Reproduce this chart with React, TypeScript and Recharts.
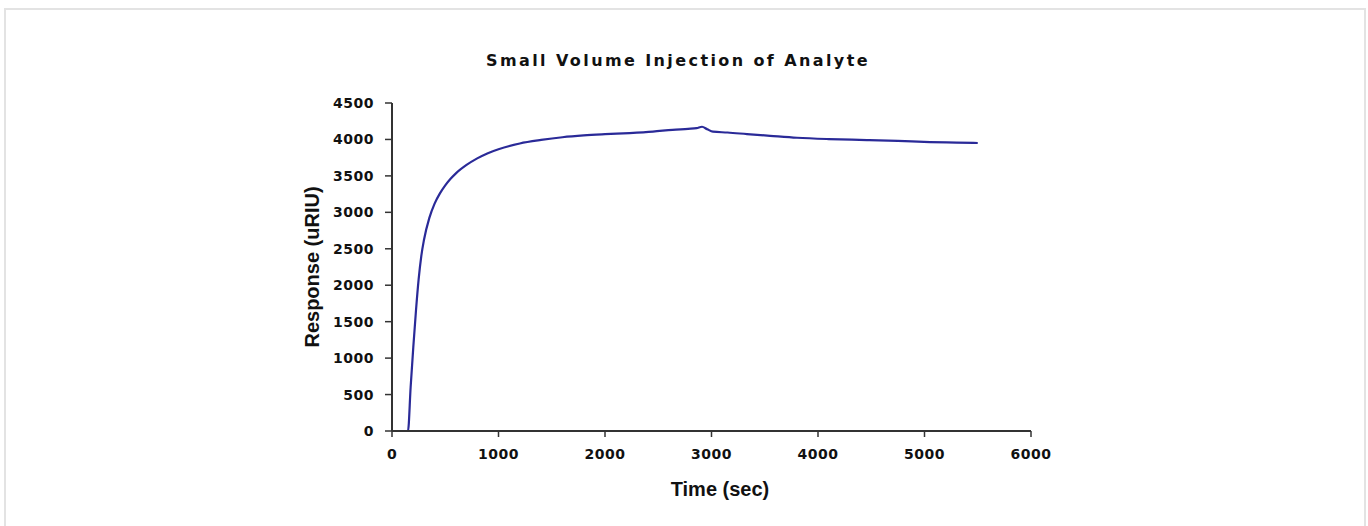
import { LineChart, Line, XAxis, YAxis } from 'recharts'

const times = [0, 150, 175, 200, 225, 250, 275, 300, 350, 400, 450, 500, 550, 600, 700, 800, 900, 1000, 1200, 1400, 1600, 1800, 2000, 2231, 2450, 2634, 2780, 2860, 2911, 2960, 3014, 3150, 3333, 3550, 3803, 4100, 4460, 4750, 5052, 5300, 5500]
const responses = [0, 0, 600, 1150, 1650, 2080, 2400, 2620, 2920, 3120, 3260, 3370, 3460, 3535, 3650, 3740, 3812, 3866, 3945, 3993, 4030, 4055, 4072, 4088, 4108, 4132, 4146, 4155, 4174, 4140, 4106, 4095, 4074, 4050, 4023, 4005, 3992, 3980, 3964, 3957, 3951]
const xTicks = [0, 1000, 2000, 3000, 4000, 5000, 6000]
const yTicks = [0, 500, 1000, 1500, 2000, 2500, 3000, 3500, 4000, 4500]

const chartData = times.map((t, i) => ({ time: t, response: responses[i] }))

const tickStyle = { fill: '#111', fontSize: 14, fontWeight: 700, fontFamily: 'DejaVu Sans', letterSpacing: 0.5 }

export default function App() {
  return (
    <div style={{ position: 'absolute', left: 0, top: 0, width: 1368, height: 526, overflow: 'hidden', background: '#fff' }}>
      <div style={{ position: 'absolute', left: 4, top: 8, width: 1358, height: 540, border: '2px solid #e3e3e3' }} />
      <div style={{ position: 'absolute', left: 0, top: 0 }}>
        <LineChart width={1368} height={526} data={chartData} margin={{ top: 103, right: 337, bottom: 55, left: 312 }}>
          <XAxis
            dataKey="time"
            type="number"
            domain={[0, 6000]}
            ticks={xTicks}
            tick={tickStyle}
            tickSize={6}
            tickMargin={12}
            height={40}
            axisLine={{ stroke: '#333', strokeWidth: 2 }}
            tickLine={{ stroke: '#333', strokeWidth: 1.5 }}
          />
          <YAxis
            type="number"
            domain={[0, 4500]}
            ticks={yTicks}
            tick={tickStyle}
            tickSize={7}
            tickMargin={11}
            width={80}
            axisLine={{ stroke: '#333', strokeWidth: 2 }}
            tickLine={{ stroke: '#333', strokeWidth: 1.5 }}
          />
          <Line dataKey="response" type="monotone" stroke="#2a2a98" strokeWidth={2.2} dot={false} isAnimationActive={false} />
        </LineChart>
      </div>
      <svg width={1368} height={526} style={{ position: 'absolute', left: 0, top: 0, pointerEvents: 'none' }}>
        <text x={678} y={60} textAnchor="middle" dominantBaseline="central" fontFamily="DejaVu Sans" fontWeight={700} fontSize={16} letterSpacing={2.4} fill="#111">
          Small Volume Injection of Analyte
        </text>
        <text x={720} y={489} textAnchor="middle" dominantBaseline="central" fontFamily="Liberation Sans" fontWeight={700} fontSize={20} fill="#111">
          Time (sec)
        </text>
        <text x={312} y={267} textAnchor="middle" dominantBaseline="central" fontFamily="Liberation Sans" fontWeight={700} fontSize={20} fill="#111" transform="rotate(-90, 312, 267)">
          Response (uRIU)
        </text>
      </svg>
    </div>
  )
}
